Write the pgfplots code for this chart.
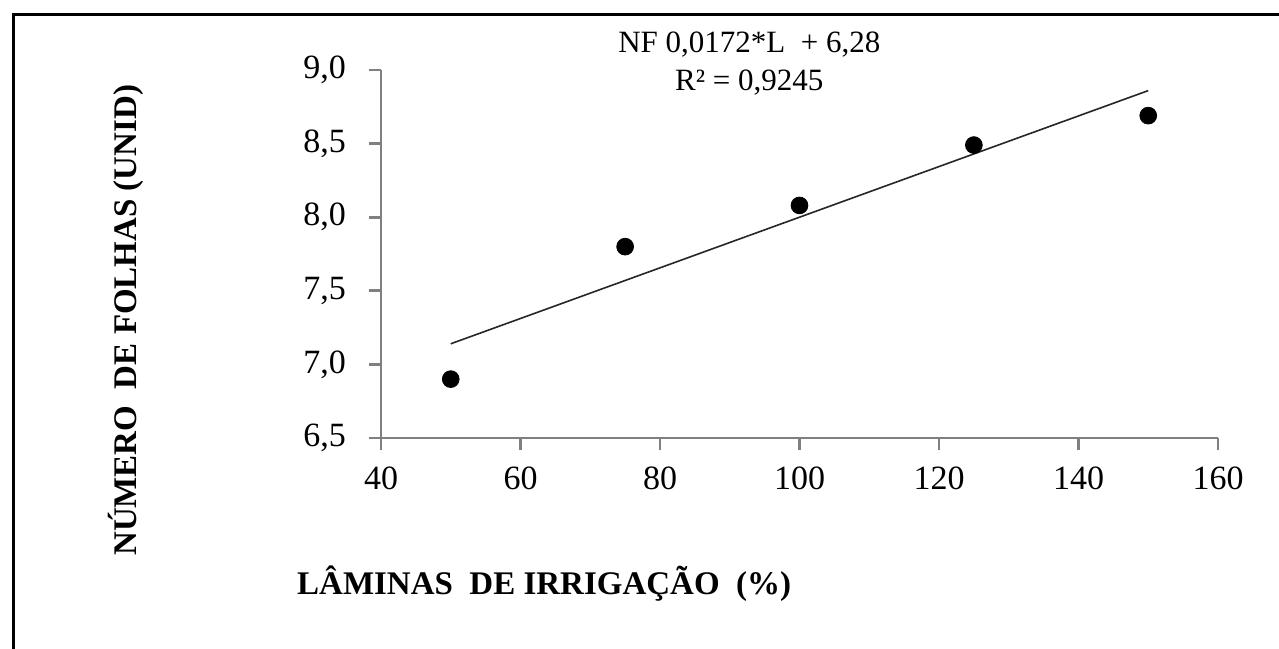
\documentclass[border=0pt]{standalone}
\usepackage{pgfplots}
\pgfplotsset{compat=1.18}
\usepackage{fontspec}
\setmainfont{Liberation Serif}
\definecolor{axgray}{HTML}{808080}
\begin{document}
\begin{tikzpicture}[x=1pt,y=1pt]
\path[use as bounding box] (0,0) rectangle (639.5,324);
\draw[line width=1.75pt, line join=miter, line cap=rect] (6.75,-2) -- (6.75,316.75) -- (642,316.75);
\begin{axis}[
  at={(190.5pt,105pt)}, anchor=south west,
  scale only axis, width=418.5pt, height=184pt,
  xmin=40, xmax=160, ymin=6.5, ymax=9.0,
  axis x line*=bottom, axis y line*=left,
  axis line style={axgray, line width=1.4pt, -},
  xtick={40,60,80,100,120,140,160},
  ytick={6.5,7.0,7.5,8.0,8.5,9.0},
  tick align=outside, major tick length=6pt,
  tick style={axgray, line width=1.4pt},
  /pgf/number format/assume math mode=true,
  tick label style={font=\fontsize{17}{20}\selectfont, text=black},
  yticklabel style={xshift=-8pt, /pgf/number format/.cd, fixed, fixed zerofill, precision=1, use comma},
  xticklabel style={yshift=-5pt, /pgf/number format/.cd, fixed, precision=0},
  clip=false,
  xlabel={LÂMINAS\ \ DE IRRIGAÇÃO\ \ (\%)},
  ylabel={NÚMERO\ \ DE FOLHAS (UNID)},
  label style={font=\bfseries\fontsize{16.5}{19}\selectfont},
  xlabel style={at={(rel axis cs:0.195,-0.397)}, anchor=center},
  ylabel style={at={(rel axis cs:-0.305,0.32)}, anchor=center},
]
\addplot[only marks, mark=*, mark size=4.2pt, black] coordinates {
  (50,6.9) (75,7.8) (100,8.08) (125,8.49) (150,8.69)
};
\addplot[black!85, line width=0.8pt] coordinates {(50,7.14) (150,8.86)};
\node[font=\fontsize{15.5}{18}\selectfont, anchor=center] at (rel axis cs:0.44,1.068) {NF 0,0172*L\ \ + 6,28};
\node[font=\fontsize{15.5}{18}\selectfont, anchor=center] at (rel axis cs:0.44,0.967) {R² = 0,9245};
\end{axis}
\end{tikzpicture}
\end{document}
